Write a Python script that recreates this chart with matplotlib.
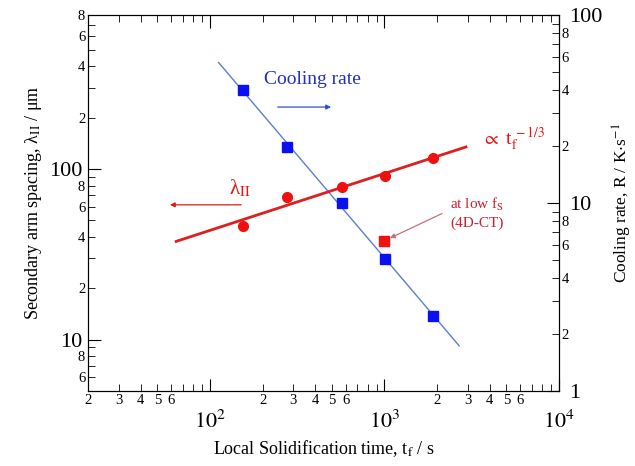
import numpy as np
import matplotlib
matplotlib.use("Agg")
import matplotlib.pyplot as plt
from matplotlib.ticker import LogLocator, FuncFormatter

plt.rcParams['font.family'] = ['Liberation Serif', 'DejaVu Serif']
plt.rcParams['mathtext.fontset'] = 'stix'

# cooling rate data (right axis)
t_cool = [154, 275, 573, 1007, 1904]
R_cool = [40.0, 19.9, 9.94, 5.01, 2.5]
# secondary arm spacing data (left axis)
t_lam = [154, 278, 571, 1007, 1904]
lam = [46.6, 68.9, 78.8, 91.0, 115.5]
# 4D-CT point at low fs
t_ct = [1000]
lam_ct = [37.6]
# extent of fit lines
cool_fit_range = [112, 2680]
lam_fit_range = [64, 2930]

fig = plt.figure(figsize=(6.35, 4.66), dpi=100)
ax = fig.add_axes([0.1386, 0.161, 0.7417, 0.807])
ax2 = ax.twinx()

ax.set_xscale('log')
ax.set_yscale('log')
ax2.set_yscale('log')
ax.set_xlim(20, 1e4)
ax.set_ylim(5, 800)
ax2.set_ylim(1, 100)

# fit lines
p = np.polyfit(np.log10(t_cool), np.log10(R_cool), 1)
tx = np.array(cool_fit_range, dtype=float)
ax2.plot(tx, 10 ** np.polyval(p, np.log10(tx)), color='#5a7fd6', lw=1.0, zorder=2)
ax2.plot(t_cool, R_cool, 's', color='#0a10f0', ms=6.5, zorder=3)

C = 10 ** np.mean(np.log10(lam) - np.log10(t_lam) / 3)
tl = np.array(lam_fit_range, dtype=float)
ax.plot(tl, C * tl ** (1 / 3), color='#dd1f1f', lw=2.0, zorder=2)
ax.plot(t_lam, lam, 'o', color='#f01010', ms=7, zorder=3)
ax.plot(t_ct, lam_ct, 's', color='#f01010', ms=7, zorder=3)
ax.set_zorder(ax2.get_zorder() + 1)
ax.patch.set_visible(False)

def minor_fmt(keep):
    def f(v, pos):
        m = v / 10 ** np.floor(np.log10(v) + 1e-9)
        d = int(round(m))
        return str(d) if d in keep else ''
    return FuncFormatter(f)

def major_fmt(v, pos):
    e = int(round(np.log10(v)))
    return r'$10^{%d}$' % e

ax.xaxis.set_major_locator(LogLocator(base=10, numticks=10))
ax.xaxis.set_minor_locator(LogLocator(base=10, subs=np.arange(2, 10), numticks=20))
ax.xaxis.set_major_formatter(FuncFormatter(major_fmt))
ax.xaxis.set_minor_formatter(minor_fmt([2, 3, 4, 5, 6]))

ax.yaxis.set_major_locator(LogLocator(base=10, numticks=10))
ax.yaxis.set_minor_locator(LogLocator(base=10, subs=np.arange(2, 10), numticks=20))
ax.yaxis.set_major_formatter(FuncFormatter(lambda v, pos: '%d' % round(v)))
ax.yaxis.set_minor_formatter(minor_fmt([2, 4, 6, 8]))

ax2.yaxis.set_major_locator(LogLocator(base=10, numticks=10))
ax2.yaxis.set_minor_locator(LogLocator(base=10, subs=np.arange(2, 10), numticks=20))
ax2.yaxis.set_major_formatter(FuncFormatter(lambda v, pos: '%d' % round(v)))
ax2.yaxis.set_minor_formatter(minor_fmt([2, 4, 6, 8]))

ax.tick_params(axis='x', which='both', direction='in', top=True)
ax.tick_params(axis='x', which='major', length=9, pad=14, labelsize=16)
ax.tick_params(axis='x', which='minor', length=5, pad=2, labelsize=10.5)
ax.tick_params(axis='y', which='major', direction='in', length=9, pad=4, labelsize=16)
ax.tick_params(axis='y', which='minor', direction='in', length=5, pad=2, labelsize=10.5)
ax2.tick_params(axis='y', which='major', direction='in', length=9, pad=7, labelsize=16)
ax2.tick_params(axis='y', which='minor', direction='in', length=5, pad=2, labelsize=10.5)

ax.set_xlabel(r'Local Solidification time, t$_{\rm f}$ / s', fontsize=13, labelpad=4)
ax.set_ylabel('Secondary arm spacing, λ$_{\\rm II}$ / μm', fontsize=13, labelpad=4)
ax2.set_ylabel(r'Cooling rate, R / K$\cdot$s$^{-1}$', fontsize=12.5, labelpad=6)

# annotations
ax.text(0.476, 0.827, 'Cooling rate', transform=ax.transAxes, color='#2030c0',
        fontsize=14, ha='center', va='center')
ax.annotate('', xy=(0.522, 0.755), xytext=(0.397, 0.755), xycoords='axes fraction',
            arrowprops=dict(arrowstyle='-|>', color='#3050c0', lw=0.9, mutation_scale=7))
ax.text(0.323, 0.538, 'λ$_{\\rm II}$', transform=ax.transAxes, color='#e01818',
        fontsize=15, ha='center', va='center')
ax.annotate('', xy=(0.168, 0.495), xytext=(0.331, 0.495), xycoords='axes fraction',
            arrowprops=dict(arrowstyle='-|>', color='#e01818', lw=0.9, mutation_scale=7))
ax.text(0.837, 0.668, r'$\propto$ t$_{\rm f}^{\,-1/3}$', transform=ax.transAxes,
        color='#f01010', fontsize=14, ha='left', va='center')
ax.text(0.826, 0.497, r'at low f$_{\rm S}$', transform=ax.transAxes, color='#cc2030',
        fontsize=11, ha='center', va='center')
ax.text(0.826, 0.447, '(4D-CT)', transform=ax.transAxes, color='#cc2030',
        fontsize=11, ha='center', va='center')
ax.annotate('', xy=(t_ct[0] * 1.04, lam_ct[0] * 1.03), xytext=(0.757, 0.475),
            xycoords='data', textcoords='axes fraction',
            arrowprops=dict(arrowstyle='-|>', color='#c87078', lw=0.9, mutation_scale=7))

fig.savefig('out.png', dpi=100)
